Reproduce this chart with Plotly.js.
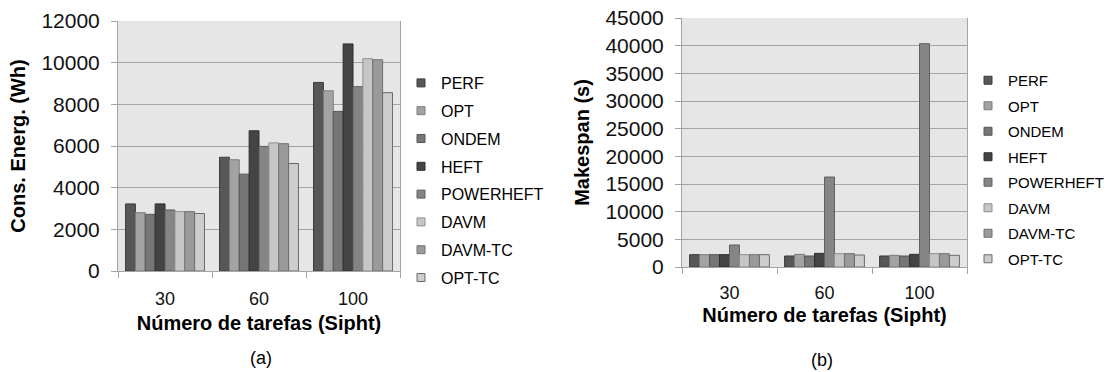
<!DOCTYPE html>
<html>
<head>
<meta charset="utf-8">
<script src="https://cdn.plot.ly/plotly-3.0.1.min.js"></script>
<style>
  html, body { margin: 0; padding: 0; background: #ffffff; }
  #chart { width: 1112px; height: 372px; }
</style>
</head>
<body>
<div id="chart"></div>
<script>
// Workflow sizes (number of Sipht tasks) and the schedulers compared
const taskCounts = ['30', '60', '100'];
const schedulers = ['PERF', 'OPT', 'ONDEM', 'HEFT', 'POWERHEFT', 'DAVM', 'DAVM-TC', 'OPT-TC'];

// Energy consumption (Wh), one value per scheduler, for each workflow size
const energy30  = [3220, 2800, 2720, 3220, 2930, 2850, 2850, 2760];
const energy60  = [5460, 5340, 4650, 6730, 5980, 6150, 6110, 5160];
const energy100 = [9050, 8650, 7660, 10900, 8850, 10190, 10140, 8560];

// Makespan (s), one value per scheduler, for each workflow size
const makespan30  = [2230, 2230, 2230, 2230, 3980, 2230, 2230, 2230];
const makespan60  = [1990, 2290, 1990, 2470, 16260, 2410, 2410, 2170];
const makespan100 = [1990, 2110, 1990, 2290, 40360, 2410, 2410, 2110];

// Grey-scale palette, one shade per scheduler
const fillColors = ['#575757', '#a3a3a3', '#767676', '#444444', '#858585', '#c6c6c6', '#9a9a9a', '#cdcdcd'];
const edgeColors = ['#3c3c3c', '#7c7c7c', '#565656', '#2e2e2e', '#606060', '#8e8e8e', '#727272', '#6a6a6a'];

const energyRows = [energy30, energy60, energy100];
const makespanRows = [makespan30, makespan60, makespan100];

const FONT = '"Liberation Sans", Arial, Helvetica, sans-serif';
const W = 1112, H = 372;

const traces = [];

// Bars: panel (a) energy, panel (b) makespan
schedulers.forEach((name, i) => {
  traces.push({
    type: 'bar', name: name, xaxis: 'x', yaxis: 'y',
    x: taskCounts, y: energyRows.map(row => row[i]),
    marker: { color: fillColors[i], line: { color: edgeColors[i], width: 1 } },
    showlegend: false
  });
  traces.push({
    type: 'bar', name: name, xaxis: 'x2', yaxis: 'y2',
    x: taskCounts, y: makespanRows.map(row => row[i]),
    marker: { color: fillColors[i], line: { color: edgeColors[i], width: 1 } },
    showlegend: false
  });
});

// Small square swatches for the two legends
schedulers.forEach((name, i) => {
  const swatch = { symbol: 'square', size: 8, color: fillColors[i], line: { color: edgeColors[i], width: 1 } };
  traces.push({
    type: 'scatter', mode: 'markers', name: name, xaxis: 'x', yaxis: 'y',
    x: [null], y: [null], marker: swatch, legend: 'legend', legendgroup: 'a' + i
  });
  traces.push({
    type: 'scatter', mode: 'markers', name: name, xaxis: 'x2', yaxis: 'y2',
    x: [null], y: [null], marker: swatch, legend: 'legend2', legendgroup: 'b' + i
  });
});

const gridGrey = '#a4a4a4';

function catAxis(domain, anchor, labelGap, titleGap) {
  return {
    domain: domain, anchor: anchor, type: 'category',
    categoryorder: 'array', categoryarray: taskCounts,
    tickson: 'boundaries', ticks: 'outside', ticklen: 6, tickcolor: gridGrey,
    ticklabelstandoff: labelGap,
    showline: true, linecolor: gridGrey, linewidth: 1, showgrid: false,
    tickfont: { family: FONT, size: 18, color: '#111' },
    title: { text: 'Número de tarefas (Sipht)', font: { family: FONT, size: 20, weight: 'bold', color: '#000' }, standoff: titleGap },
    automargin: false, fixedrange: true
  };
}

function valAxis(domain, anchor, range, dtick, label) {
  return {
    domain: domain, anchor: anchor, range: range, dtick: dtick, tickformat: 'd',
    ticks: 'outside', ticklen: 6, tickcolor: gridGrey, ticklabelstandoff: 7,
    showline: true, linecolor: gridGrey, linewidth: 1, mirror: true,
    showgrid: true, gridcolor: gridGrey, gridwidth: 1, zeroline: false,
    tickfont: { family: FONT, size: 21, color: '#111' },
    title: { text: label, font: { family: FONT, size: 20, weight: 'bold', color: '#000' }, standoff: 10 },
    automargin: false, fixedrange: true
  };
}

const layout = {
  width: W, height: H,
  margin: { l: 0, r: 0, t: 0, b: 0 },
  paper_bgcolor: '#ffffff', plot_bgcolor: '#e6e6e6',
  font: { family: FONT, color: '#000' },
  barmode: 'group', bargap: 0.16, bargroupgap: 0,
  showlegend: true,
  xaxis: catAxis([118 / W, 400 / W], 'y', 11, 8),
  yaxis: valAxis([1 - 271 / H, 1 - 21 / H], 'x', [0, 12000], 2000, 'Cons. Energ. (Wh)'),
  xaxis2: catAxis([682 / W, 967 / W], 'y2', 9, 6),
  yaxis2: valAxis([1 - 267 / H, 1 - 18 / H], 'x2', [0, 45000], 5000, 'Makespan (s)'),
  legend: {
    x: 401 / W, xanchor: 'left', y: 1 - 66 / H, yanchor: 'top',
    traceorder: 'grouped', tracegroupgap: 4,
    font: { family: FONT, size: 16, color: '#000' },
    bgcolor: 'rgba(0,0,0,0)', borderwidth: 0
  },
  legend2: {
    x: 968 / W, xanchor: 'left', y: 1 - 64 / H, yanchor: 'top',
    traceorder: 'grouped', tracegroupgap: 3,
    font: { family: FONT, size: 15, color: '#000' },
    bgcolor: 'rgba(0,0,0,0)', borderwidth: 0
  },
  annotations: [
    { text: '(a)', xref: 'paper', yref: 'paper', x: 261 / W, y: 1 - 358 / H,
      xanchor: 'center', yanchor: 'middle', showarrow: false, font: { family: FONT, size: 18, color: '#000' } },
    { text: '(b)', xref: 'paper', yref: 'paper', x: 822 / W, y: 1 - 360 / H,
      xanchor: 'center', yanchor: 'middle', showarrow: false, font: { family: FONT, size: 18, color: '#000' } }
  ]
};

Plotly.newPlot('chart', traces, layout, { staticPlot: true, displayModeBar: false });
</script>
</body>
</html>
